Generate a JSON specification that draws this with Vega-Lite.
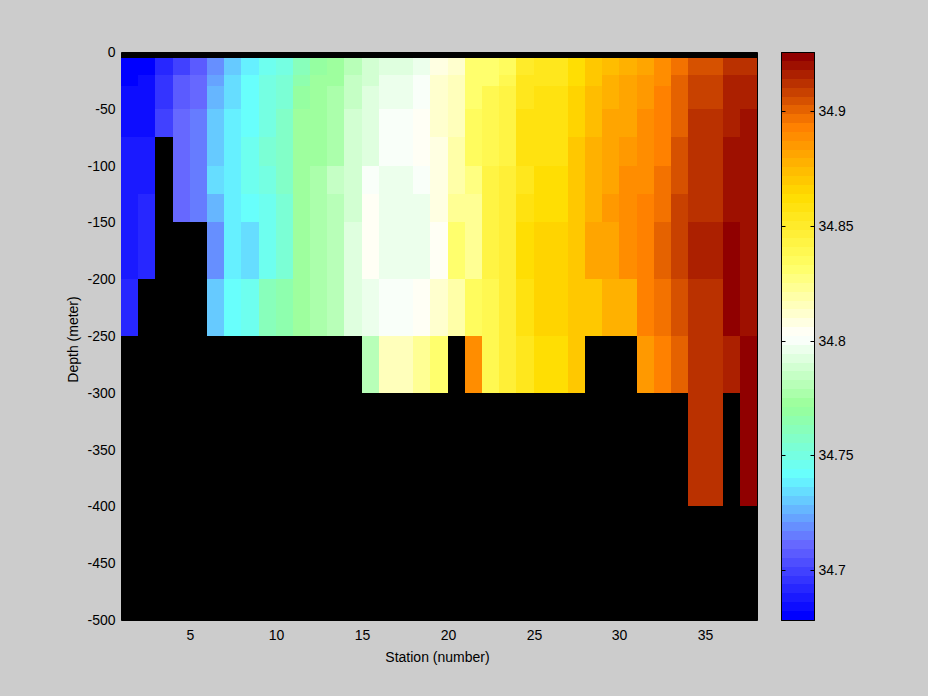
{"$schema":"https://vega.github.io/schema/vega-lite/v6.json","background":"#cccccc","autosize":{"type":"pad"},"padding":{"left":66,"top":44,"right":76,"bottom":33},"bounds":"flush","spacing":24,
"config":{"font":"Liberation Sans","axis":{"labelFont":"Liberation Sans","titleFont":"Liberation Sans","labelFontSize":14,"titleFontSize":14,"titleFontWeight":"normal","labelColor":"#000000","titleColor":"#000000","grid":false,"domain":false,"ticks":false}},
"datasets":{"bar":[
{"lo":34.6783,"hi":34.6822,"v":34.680},{"lo":34.6822,"hi":34.6860,"v":34.684},{"lo":34.6860,"hi":34.6899,"v":34.688},{"lo":34.6899,"hi":34.6938,"v":34.692},{"lo":34.6938,"hi":34.6976,"v":34.696},{"lo":34.6976,"hi":34.7015,"v":34.700},{"lo":34.7015,"hi":34.7054,"v":34.703},{"lo":34.7054,"hi":34.7092,"v":34.707},{"lo":34.7092,"hi":34.7131,"v":34.711},{"lo":34.7131,"hi":34.7170,"v":34.715},{"lo":34.7170,"hi":34.7208,"v":34.719},{"lo":34.7208,"hi":34.7247,"v":34.723},{"lo":34.7247,"hi":34.7286,"v":34.727},{"lo":34.7286,"hi":34.7324,"v":34.731},{"lo":34.7324,"hi":34.7363,"v":34.734},{"lo":34.7363,"hi":34.7402,"v":34.738},{"lo":34.7402,"hi":34.7440,"v":34.742},{"lo":34.7440,"hi":34.7479,"v":34.746},{"lo":34.7479,"hi":34.7518,"v":34.750},{"lo":34.7518,"hi":34.7556,"v":34.754},{"lo":34.7556,"hi":34.7595,"v":34.758},{"lo":34.7595,"hi":34.7634,"v":34.761},{"lo":34.7634,"hi":34.7672,"v":34.765},{"lo":34.7672,"hi":34.7711,"v":34.769},{"lo":34.7711,"hi":34.7750,"v":34.773},{"lo":34.7750,"hi":34.7788,"v":34.777},{"lo":34.7788,"hi":34.7827,"v":34.781},{"lo":34.7827,"hi":34.7866,"v":34.785},{"lo":34.7866,"hi":34.7904,"v":34.788},{"lo":34.7904,"hi":34.7943,"v":34.792},{"lo":34.7943,"hi":34.7982,"v":34.796},{"lo":34.7982,"hi":34.8020,"v":34.800},{"lo":34.8020,"hi":34.8059,"v":34.804},{"lo":34.8059,"hi":34.8098,"v":34.808},{"lo":34.8098,"hi":34.8136,"v":34.812},{"lo":34.8136,"hi":34.8175,"v":34.816},{"lo":34.8175,"hi":34.8214,"v":34.819},{"lo":34.8214,"hi":34.8252,"v":34.823},{"lo":34.8252,"hi":34.8291,"v":34.827},{"lo":34.8291,"hi":34.8330,"v":34.831},{"lo":34.8330,"hi":34.8368,"v":34.835},{"lo":34.8368,"hi":34.8407,"v":34.839},{"lo":34.8407,"hi":34.8446,"v":34.843},{"lo":34.8446,"hi":34.8484,"v":34.847},{"lo":34.8484,"hi":34.8523,"v":34.850},{"lo":34.8523,"hi":34.8562,"v":34.854},{"lo":34.8562,"hi":34.8600,"v":34.858},{"lo":34.8600,"hi":34.8639,"v":34.862},{"lo":34.8639,"hi":34.8678,"v":34.866},{"lo":34.8678,"hi":34.8716,"v":34.870},{"lo":34.8716,"hi":34.8755,"v":34.874},{"lo":34.8755,"hi":34.8794,"v":34.877},{"lo":34.8794,"hi":34.8832,"v":34.881},{"lo":34.8832,"hi":34.8871,"v":34.885},{"lo":34.8871,"hi":34.8910,"v":34.889},{"lo":34.8910,"hi":34.8948,"v":34.893},{"lo":34.8948,"hi":34.8987,"v":34.897},{"lo":34.8987,"hi":34.9026,"v":34.901},{"lo":34.9026,"hi":34.9064,"v":34.905},{"lo":34.9064,"hi":34.9103,"v":34.908},{"lo":34.9103,"hi":34.9142,"v":34.912},{"lo":34.9142,"hi":34.9180,"v":34.916},{"lo":34.9180,"hi":34.9219,"v":34.920},{"lo":34.9219,"hi":34.9258,"v":34.924}
],
"cells":[
{"x":1,"x2":2,"y":-5,"y2":-20,"v":34.680},{"x":1,"x2":2,"y":-20,"y2":-30,"v":34.680},{"x":1,"x2":2,"y":-30,"y2":-50,"v":34.684},{"x":1,"x2":2,"y":-50,"y2":-75,"v":34.684},{"x":1,"x2":2,"y":-75,"y2":-100,"v":34.688},{"x":1,"x2":2,"y":-100,"y2":-125,"v":34.688},{"x":1,"x2":2,"y":-125,"y2":-150,"v":34.688},{"x":1,"x2":2,"y":-150,"y2":-200,"v":34.688},{"x":1,"x2":2,"y":-200,"y2":-250,"v":34.692},
{"x":2,"x2":3,"y":-5,"y2":-20,"v":34.680},{"x":2,"x2":3,"y":-20,"y2":-30,"v":34.684},{"x":2,"x2":3,"y":-30,"y2":-50,"v":34.684},{"x":2,"x2":3,"y":-50,"y2":-75,"v":34.684},{"x":2,"x2":3,"y":-75,"y2":-100,"v":34.688},{"x":2,"x2":3,"y":-100,"y2":-125,"v":34.688},{"x":2,"x2":3,"y":-125,"y2":-150,"v":34.692},{"x":2,"x2":3,"y":-150,"y2":-200,"v":34.692},
{"x":3,"x2":4,"y":-5,"y2":-20,"v":34.692},{"x":3,"x2":4,"y":-20,"y2":-30,"v":34.696},{"x":3,"x2":4,"y":-30,"y2":-50,"v":34.696},{"x":3,"x2":4,"y":-50,"y2":-75,"v":34.700},
{"x":4,"x2":5,"y":-5,"y2":-20,"v":34.700},{"x":4,"x2":5,"y":-20,"y2":-30,"v":34.707},{"x":4,"x2":5,"y":-30,"y2":-50,"v":34.707},{"x":4,"x2":5,"y":-50,"y2":-75,"v":34.711},{"x":4,"x2":5,"y":-75,"y2":-100,"v":34.711},{"x":4,"x2":5,"y":-100,"y2":-125,"v":34.711},{"x":4,"x2":5,"y":-125,"y2":-150,"v":34.711},
{"x":5,"x2":6,"y":-5,"y2":-20,"v":34.707},{"x":5,"x2":6,"y":-20,"y2":-30,"v":34.711},{"x":5,"x2":6,"y":-30,"y2":-50,"v":34.711},{"x":5,"x2":6,"y":-50,"y2":-75,"v":34.715},{"x":5,"x2":6,"y":-75,"y2":-100,"v":34.715},{"x":5,"x2":6,"y":-100,"y2":-125,"v":34.715},{"x":5,"x2":6,"y":-125,"y2":-150,"v":34.715},
{"x":6,"x2":7,"y":-5,"y2":-20,"v":34.719},{"x":6,"x2":7,"y":-20,"y2":-30,"v":34.723},{"x":6,"x2":7,"y":-30,"y2":-50,"v":34.727},{"x":6,"x2":7,"y":-50,"y2":-75,"v":34.731},{"x":6,"x2":7,"y":-75,"y2":-100,"v":34.731},{"x":6,"x2":7,"y":-100,"y2":-125,"v":34.734},{"x":6,"x2":7,"y":-125,"y2":-150,"v":34.727},{"x":6,"x2":7,"y":-150,"y2":-200,"v":34.719},{"x":6,"x2":7,"y":-200,"y2":-250,"v":34.731},
{"x":7,"x2":8,"y":-5,"y2":-20,"v":34.731},{"x":7,"x2":8,"y":-20,"y2":-30,"v":34.734},{"x":7,"x2":8,"y":-30,"y2":-50,"v":34.734},{"x":7,"x2":8,"y":-50,"y2":-75,"v":34.738},{"x":7,"x2":8,"y":-75,"y2":-100,"v":34.738},{"x":7,"x2":8,"y":-100,"y2":-125,"v":34.738},{"x":7,"x2":8,"y":-125,"y2":-150,"v":34.738},{"x":7,"x2":8,"y":-150,"y2":-200,"v":34.738},{"x":7,"x2":8,"y":-200,"y2":-250,"v":34.742},
{"x":8,"x2":9,"y":-5,"y2":-20,"v":34.738},{"x":8,"x2":9,"y":-20,"y2":-30,"v":34.742},{"x":8,"x2":9,"y":-30,"y2":-50,"v":34.742},{"x":8,"x2":9,"y":-50,"y2":-75,"v":34.742},{"x":8,"x2":9,"y":-75,"y2":-100,"v":34.746},{"x":8,"x2":9,"y":-100,"y2":-125,"v":34.746},{"x":8,"x2":9,"y":-125,"y2":-150,"v":34.742},{"x":8,"x2":9,"y":-150,"y2":-200,"v":34.734},{"x":8,"x2":9,"y":-200,"y2":-250,"v":34.746},
{"x":9,"x2":10,"y":-5,"y2":-20,"v":34.746},{"x":9,"x2":10,"y":-20,"y2":-30,"v":34.750},{"x":9,"x2":10,"y":-30,"y2":-50,"v":34.750},{"x":9,"x2":10,"y":-50,"y2":-75,"v":34.750},{"x":9,"x2":10,"y":-75,"y2":-100,"v":34.754},{"x":9,"x2":10,"y":-100,"y2":-125,"v":34.750},{"x":9,"x2":10,"y":-125,"y2":-150,"v":34.746},{"x":9,"x2":10,"y":-150,"y2":-200,"v":34.746},{"x":9,"x2":10,"y":-200,"y2":-250,"v":34.761},
{"x":10,"x2":11,"y":-5,"y2":-20,"v":34.750},{"x":10,"x2":11,"y":-20,"y2":-30,"v":34.754},{"x":10,"x2":11,"y":-30,"y2":-50,"v":34.754},{"x":10,"x2":11,"y":-50,"y2":-75,"v":34.758},{"x":10,"x2":11,"y":-75,"y2":-100,"v":34.758},{"x":10,"x2":11,"y":-100,"y2":-125,"v":34.758},{"x":10,"x2":11,"y":-125,"y2":-150,"v":34.754},{"x":10,"x2":11,"y":-150,"y2":-200,"v":34.754},{"x":10,"x2":11,"y":-200,"y2":-250,"v":34.765},
{"x":11,"x2":12,"y":-5,"y2":-20,"v":34.761},{"x":11,"x2":12,"y":-20,"y2":-30,"v":34.765},{"x":11,"x2":12,"y":-30,"y2":-50,"v":34.769},{"x":11,"x2":12,"y":-50,"y2":-75,"v":34.773},{"x":11,"x2":12,"y":-75,"y2":-100,"v":34.773},{"x":11,"x2":12,"y":-100,"y2":-125,"v":34.773},{"x":11,"x2":12,"y":-125,"y2":-150,"v":34.773},{"x":11,"x2":12,"y":-150,"y2":-200,"v":34.773},{"x":11,"x2":12,"y":-200,"y2":-250,"v":34.773},
{"x":12,"x2":13,"y":-5,"y2":-20,"v":34.769},{"x":12,"x2":13,"y":-20,"y2":-30,"v":34.773},{"x":12,"x2":13,"y":-30,"y2":-50,"v":34.773},{"x":12,"x2":13,"y":-50,"y2":-75,"v":34.773},{"x":12,"x2":13,"y":-75,"y2":-100,"v":34.773},{"x":12,"x2":13,"y":-100,"y2":-125,"v":34.777},{"x":12,"x2":13,"y":-125,"y2":-150,"v":34.777},{"x":12,"x2":13,"y":-150,"y2":-200,"v":34.777},{"x":12,"x2":13,"y":-200,"y2":-250,"v":34.777},
{"x":13,"x2":14,"y":-5,"y2":-20,"v":34.773},{"x":13,"x2":14,"y":-20,"y2":-30,"v":34.773},{"x":13,"x2":14,"y":-30,"y2":-50,"v":34.777},{"x":13,"x2":14,"y":-50,"y2":-75,"v":34.777},{"x":13,"x2":14,"y":-75,"y2":-100,"v":34.777},{"x":13,"x2":14,"y":-100,"y2":-125,"v":34.785},{"x":13,"x2":14,"y":-125,"y2":-150,"v":34.781},{"x":13,"x2":14,"y":-150,"y2":-200,"v":34.781},{"x":13,"x2":14,"y":-200,"y2":-250,"v":34.781},
{"x":14,"x2":15,"y":-5,"y2":-20,"v":34.781},{"x":14,"x2":15,"y":-20,"y2":-30,"v":34.785},{"x":14,"x2":15,"y":-30,"y2":-50,"v":34.785},{"x":14,"x2":15,"y":-50,"y2":-75,"v":34.788},{"x":14,"x2":15,"y":-75,"y2":-100,"v":34.788},{"x":14,"x2":15,"y":-100,"y2":-125,"v":34.788},{"x":14,"x2":15,"y":-125,"y2":-150,"v":34.788},{"x":14,"x2":15,"y":-150,"y2":-200,"v":34.792},{"x":14,"x2":15,"y":-200,"y2":-250,"v":34.792},
{"x":15,"x2":16,"y":-5,"y2":-20,"v":34.788},{"x":15,"x2":16,"y":-20,"y2":-30,"v":34.788},{"x":15,"x2":16,"y":-30,"y2":-50,"v":34.792},{"x":15,"x2":16,"y":-50,"y2":-75,"v":34.792},{"x":15,"x2":16,"y":-75,"y2":-100,"v":34.792},{"x":15,"x2":16,"y":-100,"y2":-125,"v":34.800},{"x":15,"x2":16,"y":-125,"y2":-150,"v":34.804},{"x":15,"x2":16,"y":-150,"y2":-200,"v":34.804},{"x":15,"x2":16,"y":-200,"y2":-250,"v":34.796},{"x":15,"x2":16,"y":-250,"y2":-300,"v":34.781},
{"x":16,"x2":17,"y":-5,"y2":-20,"v":34.792},{"x":16,"x2":17,"y":-20,"y2":-30,"v":34.796},{"x":16,"x2":17,"y":-30,"y2":-50,"v":34.796},{"x":16,"x2":17,"y":-50,"y2":-75,"v":34.800},{"x":16,"x2":17,"y":-75,"y2":-100,"v":34.800},{"x":16,"x2":17,"y":-100,"y2":-125,"v":34.796},{"x":16,"x2":17,"y":-125,"y2":-150,"v":34.796},{"x":16,"x2":17,"y":-150,"y2":-200,"v":34.796},{"x":16,"x2":17,"y":-200,"y2":-250,"v":34.800},{"x":16,"x2":17,"y":-250,"y2":-300,"v":34.816},
{"x":17,"x2":18,"y":-5,"y2":-20,"v":34.792},{"x":17,"x2":18,"y":-20,"y2":-30,"v":34.796},{"x":17,"x2":18,"y":-30,"y2":-50,"v":34.796},{"x":17,"x2":18,"y":-50,"y2":-75,"v":34.800},{"x":17,"x2":18,"y":-75,"y2":-100,"v":34.800},{"x":17,"x2":18,"y":-100,"y2":-125,"v":34.796},{"x":17,"x2":18,"y":-125,"y2":-150,"v":34.796},{"x":17,"x2":18,"y":-150,"y2":-200,"v":34.796},{"x":17,"x2":18,"y":-200,"y2":-250,"v":34.800},{"x":17,"x2":18,"y":-250,"y2":-300,"v":34.816},
{"x":18,"x2":19,"y":-5,"y2":-20,"v":34.796},{"x":18,"x2":19,"y":-20,"y2":-30,"v":34.800},{"x":18,"x2":19,"y":-30,"y2":-50,"v":34.800},{"x":18,"x2":19,"y":-50,"y2":-75,"v":34.804},{"x":18,"x2":19,"y":-75,"y2":-100,"v":34.804},{"x":18,"x2":19,"y":-100,"y2":-125,"v":34.800},{"x":18,"x2":19,"y":-125,"y2":-150,"v":34.796},{"x":18,"x2":19,"y":-150,"y2":-200,"v":34.796},{"x":18,"x2":19,"y":-200,"y2":-250,"v":34.804},{"x":18,"x2":19,"y":-250,"y2":-300,"v":34.823},
{"x":19,"x2":20,"y":-5,"y2":-20,"v":34.808},{"x":19,"x2":20,"y":-20,"y2":-30,"v":34.812},{"x":19,"x2":20,"y":-30,"y2":-50,"v":34.812},{"x":19,"x2":20,"y":-50,"y2":-75,"v":34.812},{"x":19,"x2":20,"y":-75,"y2":-100,"v":34.808},{"x":19,"x2":20,"y":-100,"y2":-125,"v":34.808},{"x":19,"x2":20,"y":-125,"y2":-150,"v":34.808},{"x":19,"x2":20,"y":-150,"y2":-200,"v":34.804},{"x":19,"x2":20,"y":-200,"y2":-250,"v":34.812},{"x":19,"x2":20,"y":-250,"y2":-300,"v":34.831},
{"x":20,"x2":21,"y":-5,"y2":-20,"v":34.812},{"x":20,"x2":21,"y":-20,"y2":-30,"v":34.816},{"x":20,"x2":21,"y":-30,"y2":-50,"v":34.816},{"x":20,"x2":21,"y":-50,"y2":-75,"v":34.816},{"x":20,"x2":21,"y":-75,"y2":-100,"v":34.819},{"x":20,"x2":21,"y":-100,"y2":-125,"v":34.819},{"x":20,"x2":21,"y":-125,"y2":-150,"v":34.823},{"x":20,"x2":21,"y":-150,"y2":-200,"v":34.831},{"x":20,"x2":21,"y":-200,"y2":-250,"v":34.819},
{"x":21,"x2":22,"y":-5,"y2":-20,"v":34.831},{"x":21,"x2":22,"y":-20,"y2":-30,"v":34.831},{"x":21,"x2":22,"y":-30,"y2":-50,"v":34.831},{"x":21,"x2":22,"y":-50,"y2":-75,"v":34.835},{"x":21,"x2":22,"y":-75,"y2":-100,"v":34.835},{"x":21,"x2":22,"y":-100,"y2":-125,"v":34.827},{"x":21,"x2":22,"y":-125,"y2":-150,"v":34.823},{"x":21,"x2":22,"y":-150,"y2":-200,"v":34.823},{"x":21,"x2":22,"y":-200,"y2":-250,"v":34.835},{"x":21,"x2":22,"y":-250,"y2":-300,"v":34.889},
{"x":22,"x2":23,"y":-5,"y2":-20,"v":34.831},{"x":22,"x2":23,"y":-20,"y2":-30,"v":34.831},{"x":22,"x2":23,"y":-30,"y2":-50,"v":34.839},{"x":22,"x2":23,"y":-50,"y2":-75,"v":34.839},{"x":22,"x2":23,"y":-75,"y2":-100,"v":34.839},{"x":22,"x2":23,"y":-100,"y2":-125,"v":34.843},{"x":22,"x2":23,"y":-125,"y2":-150,"v":34.843},{"x":22,"x2":23,"y":-150,"y2":-200,"v":34.843},{"x":22,"x2":23,"y":-200,"y2":-250,"v":34.839},{"x":22,"x2":23,"y":-250,"y2":-300,"v":34.839},
{"x":23,"x2":24,"y":-5,"y2":-20,"v":34.835},{"x":23,"x2":24,"y":-20,"y2":-30,"v":34.839},{"x":23,"x2":24,"y":-30,"y2":-50,"v":34.843},{"x":23,"x2":24,"y":-50,"y2":-75,"v":34.843},{"x":23,"x2":24,"y":-75,"y2":-100,"v":34.843},{"x":23,"x2":24,"y":-100,"y2":-125,"v":34.847},{"x":23,"x2":24,"y":-125,"y2":-150,"v":34.847},{"x":23,"x2":24,"y":-150,"y2":-200,"v":34.847},{"x":23,"x2":24,"y":-200,"y2":-250,"v":34.847},{"x":23,"x2":24,"y":-250,"y2":-300,"v":34.847},
{"x":24,"x2":25,"y":-5,"y2":-20,"v":34.850},{"x":24,"x2":25,"y":-20,"y2":-30,"v":34.854},{"x":24,"x2":25,"y":-30,"y2":-50,"v":34.854},{"x":24,"x2":25,"y":-50,"y2":-75,"v":34.858},{"x":24,"x2":25,"y":-75,"y2":-100,"v":34.858},{"x":24,"x2":25,"y":-100,"y2":-125,"v":34.854},{"x":24,"x2":25,"y":-125,"y2":-150,"v":34.858},{"x":24,"x2":25,"y":-150,"y2":-200,"v":34.862},{"x":24,"x2":25,"y":-200,"y2":-250,"v":34.858},{"x":24,"x2":25,"y":-250,"y2":-300,"v":34.854},
{"x":25,"x2":26,"y":-5,"y2":-20,"v":34.854},{"x":25,"x2":26,"y":-20,"y2":-30,"v":34.854},{"x":25,"x2":26,"y":-30,"y2":-50,"v":34.858},{"x":25,"x2":26,"y":-50,"y2":-75,"v":34.858},{"x":25,"x2":26,"y":-75,"y2":-100,"v":34.858},{"x":25,"x2":26,"y":-100,"y2":-125,"v":34.862},{"x":25,"x2":26,"y":-125,"y2":-150,"v":34.862},{"x":25,"x2":26,"y":-150,"y2":-200,"v":34.866},{"x":25,"x2":26,"y":-200,"y2":-250,"v":34.866},{"x":25,"x2":26,"y":-250,"y2":-300,"v":34.862},
{"x":26,"x2":27,"y":-5,"y2":-20,"v":34.854},{"x":26,"x2":27,"y":-20,"y2":-30,"v":34.854},{"x":26,"x2":27,"y":-30,"y2":-50,"v":34.858},{"x":26,"x2":27,"y":-50,"y2":-75,"v":34.858},{"x":26,"x2":27,"y":-75,"y2":-100,"v":34.858},{"x":26,"x2":27,"y":-100,"y2":-125,"v":34.862},{"x":26,"x2":27,"y":-125,"y2":-150,"v":34.862},{"x":26,"x2":27,"y":-150,"y2":-200,"v":34.866},{"x":26,"x2":27,"y":-200,"y2":-250,"v":34.866},{"x":26,"x2":27,"y":-250,"y2":-300,"v":34.862},
{"x":27,"x2":28,"y":-5,"y2":-20,"v":34.862},{"x":27,"x2":28,"y":-20,"y2":-30,"v":34.862},{"x":27,"x2":28,"y":-30,"y2":-50,"v":34.866},{"x":27,"x2":28,"y":-50,"y2":-75,"v":34.866},{"x":27,"x2":28,"y":-75,"y2":-100,"v":34.870},{"x":27,"x2":28,"y":-100,"y2":-125,"v":34.870},{"x":27,"x2":28,"y":-125,"y2":-150,"v":34.870},{"x":27,"x2":28,"y":-150,"y2":-200,"v":34.870},{"x":27,"x2":28,"y":-200,"y2":-250,"v":34.870},{"x":27,"x2":28,"y":-250,"y2":-300,"v":34.870},
{"x":28,"x2":29,"y":-5,"y2":-20,"v":34.870},{"x":28,"x2":29,"y":-20,"y2":-30,"v":34.870},{"x":28,"x2":29,"y":-30,"y2":-50,"v":34.874},{"x":28,"x2":29,"y":-50,"y2":-75,"v":34.874},{"x":28,"x2":29,"y":-75,"y2":-100,"v":34.877},{"x":28,"x2":29,"y":-100,"y2":-125,"v":34.877},{"x":28,"x2":29,"y":-125,"y2":-150,"v":34.877},{"x":28,"x2":29,"y":-150,"y2":-200,"v":34.881},{"x":28,"x2":29,"y":-200,"y2":-250,"v":34.870},
{"x":29,"x2":30,"y":-5,"y2":-20,"v":34.874},{"x":29,"x2":30,"y":-20,"y2":-30,"v":34.877},{"x":29,"x2":30,"y":-30,"y2":-50,"v":34.877},{"x":29,"x2":30,"y":-50,"y2":-75,"v":34.881},{"x":29,"x2":30,"y":-75,"y2":-100,"v":34.881},{"x":29,"x2":30,"y":-100,"y2":-125,"v":34.881},{"x":29,"x2":30,"y":-125,"y2":-150,"v":34.885},{"x":29,"x2":30,"y":-150,"y2":-200,"v":34.881},{"x":29,"x2":30,"y":-200,"y2":-250,"v":34.877},
{"x":30,"x2":31,"y":-5,"y2":-20,"v":34.877},{"x":30,"x2":31,"y":-20,"y2":-30,"v":34.881},{"x":30,"x2":31,"y":-30,"y2":-50,"v":34.881},{"x":30,"x2":31,"y":-50,"y2":-75,"v":34.881},{"x":30,"x2":31,"y":-75,"y2":-100,"v":34.885},{"x":30,"x2":31,"y":-100,"y2":-125,"v":34.889},{"x":30,"x2":31,"y":-125,"y2":-150,"v":34.889},{"x":30,"x2":31,"y":-150,"y2":-200,"v":34.889},{"x":30,"x2":31,"y":-200,"y2":-250,"v":34.877},
{"x":31,"x2":32,"y":-5,"y2":-20,"v":34.881},{"x":31,"x2":32,"y":-20,"y2":-30,"v":34.885},{"x":31,"x2":32,"y":-30,"y2":-50,"v":34.885},{"x":31,"x2":32,"y":-50,"y2":-75,"v":34.889},{"x":31,"x2":32,"y":-75,"y2":-100,"v":34.889},{"x":31,"x2":32,"y":-100,"y2":-125,"v":34.889},{"x":31,"x2":32,"y":-125,"y2":-150,"v":34.893},{"x":31,"x2":32,"y":-150,"y2":-200,"v":34.893},{"x":31,"x2":32,"y":-200,"y2":-250,"v":34.893},{"x":31,"x2":32,"y":-250,"y2":-300,"v":34.885},
{"x":32,"x2":33,"y":-5,"y2":-20,"v":34.889},{"x":32,"x2":33,"y":-20,"y2":-30,"v":34.889},{"x":32,"x2":33,"y":-30,"y2":-50,"v":34.893},{"x":32,"x2":33,"y":-50,"y2":-75,"v":34.893},{"x":32,"x2":33,"y":-75,"y2":-100,"v":34.893},{"x":32,"x2":33,"y":-100,"y2":-125,"v":34.897},{"x":32,"x2":33,"y":-125,"y2":-150,"v":34.897},{"x":32,"x2":33,"y":-150,"y2":-200,"v":34.901},{"x":32,"x2":33,"y":-200,"y2":-250,"v":34.897},{"x":32,"x2":33,"y":-250,"y2":-300,"v":34.893},
{"x":33,"x2":34,"y":-5,"y2":-20,"v":34.897},{"x":33,"x2":34,"y":-20,"y2":-30,"v":34.901},{"x":33,"x2":34,"y":-30,"y2":-50,"v":34.901},{"x":33,"x2":34,"y":-50,"y2":-75,"v":34.901},{"x":33,"x2":34,"y":-75,"y2":-100,"v":34.905},{"x":33,"x2":34,"y":-100,"y2":-125,"v":34.905},{"x":33,"x2":34,"y":-125,"y2":-150,"v":34.908},{"x":33,"x2":34,"y":-150,"y2":-200,"v":34.908},{"x":33,"x2":34,"y":-200,"y2":-250,"v":34.905},{"x":33,"x2":34,"y":-250,"y2":-300,"v":34.901},
{"x":34,"x2":35,"y":-5,"y2":-20,"v":34.905},{"x":34,"x2":35,"y":-20,"y2":-30,"v":34.908},{"x":34,"x2":35,"y":-30,"y2":-50,"v":34.908},{"x":34,"x2":35,"y":-50,"y2":-75,"v":34.912},{"x":34,"x2":35,"y":-75,"y2":-100,"v":34.912},{"x":34,"x2":35,"y":-100,"y2":-125,"v":34.912},{"x":34,"x2":35,"y":-125,"y2":-150,"v":34.912},{"x":34,"x2":35,"y":-150,"y2":-200,"v":34.916},{"x":34,"x2":35,"y":-200,"y2":-250,"v":34.912},{"x":34,"x2":35,"y":-250,"y2":-300,"v":34.912},{"x":34,"x2":35,"y":-300,"y2":-400,"v":34.912},
{"x":35,"x2":36,"y":-5,"y2":-20,"v":34.905},{"x":35,"x2":36,"y":-20,"y2":-30,"v":34.908},{"x":35,"x2":36,"y":-30,"y2":-50,"v":34.908},{"x":35,"x2":36,"y":-50,"y2":-75,"v":34.912},{"x":35,"x2":36,"y":-75,"y2":-100,"v":34.912},{"x":35,"x2":36,"y":-100,"y2":-125,"v":34.912},{"x":35,"x2":36,"y":-125,"y2":-150,"v":34.912},{"x":35,"x2":36,"y":-150,"y2":-200,"v":34.916},{"x":35,"x2":36,"y":-200,"y2":-250,"v":34.912},{"x":35,"x2":36,"y":-250,"y2":-300,"v":34.912},{"x":35,"x2":36,"y":-300,"y2":-400,"v":34.912},
{"x":36,"x2":37,"y":-5,"y2":-20,"v":34.912},{"x":36,"x2":37,"y":-20,"y2":-30,"v":34.916},{"x":36,"x2":37,"y":-30,"y2":-50,"v":34.916},{"x":36,"x2":37,"y":-50,"y2":-75,"v":34.916},{"x":36,"x2":37,"y":-75,"y2":-100,"v":34.920},{"x":36,"x2":37,"y":-100,"y2":-125,"v":34.920},{"x":36,"x2":37,"y":-125,"y2":-150,"v":34.920},{"x":36,"x2":37,"y":-150,"y2":-200,"v":34.924},{"x":36,"x2":37,"y":-200,"y2":-250,"v":34.924},{"x":36,"x2":37,"y":-250,"y2":-300,"v":34.916},
{"x":37,"x2":38,"y":-5,"y2":-20,"v":34.912},{"x":37,"x2":38,"y":-20,"y2":-30,"v":34.916},{"x":37,"x2":38,"y":-30,"y2":-50,"v":34.916},{"x":37,"x2":38,"y":-50,"y2":-75,"v":34.920},{"x":37,"x2":38,"y":-75,"y2":-100,"v":34.920},{"x":37,"x2":38,"y":-100,"y2":-125,"v":34.920},{"x":37,"x2":38,"y":-125,"y2":-150,"v":34.920},{"x":37,"x2":38,"y":-150,"y2":-200,"v":34.920},{"x":37,"x2":38,"y":-200,"y2":-250,"v":34.920},{"x":37,"x2":38,"y":-250,"y2":-300,"v":34.924},{"x":37,"x2":38,"y":-300,"y2":-400,"v":34.924}
]},
"hconcat":[
{"width":636,"height":568,"view":{"fill":"#000000","stroke":"#000000"},"data":{"name":"cells"},"mark":{"type":"rect","tooltip":false},
"encoding":{
"x":{"field":"x","type":"quantitative","scale":{"domain":[1,38],"nice":false,"zero":false,"round":true},"axis":{"title":"Station (number)","values":[5,10,15,20,25,30,35],"labelAngle":0,"labelPadding":8,"titlePadding":8,"titleX":316}},
"x2":{"field":"x2"},
"y":{"field":"y","type":"quantitative","scale":{"domain":[-500,0],"nice":false,"zero":false,"round":true},"axis":{"title":"Depth (meter)","values":[0,-50,-100,-150,-200,-250,-300,-350,-400,-450,-500],"labelExpr":"'' + datum.value","labelPadding":6,"titlePadding":6,"titleY":287}},
"y2":{"field":"y2"},
"color":{"field":"v","type":"quantitative","legend":null,"scale":{"type":"quantize","domain":[34.6783,34.9258],"range":["#0000ff","#0d0dff","#1a1aff","#2727ff","#3434ff","#4141ff","#4e4eff","#5b5bff","#6668ff","#667cff","#668fff","#66a3ff","#66b6ff","#66caff","#66ddff","#66f0ff","#68fffc","#6effef","#75ffe2","#7bffd5","#82ffc8","#88ffbb","#8effae","#95ffa1","#9eff9e","#abffab","#b8ffb8","#c5ffc5","#d2ffd2","#dfffdf","#ecffec","#f9fff9","#fffff5","#ffffe2","#ffffce","#ffffbb","#ffffa8","#ffff94","#ffff81","#ffff6d","#fffc5e","#fff851","#fff444","#ffef37","#ffeb2a","#ffe71d","#ffe210","#ffde03","#ffd400","#ffc800","#ffbd00","#ffb100","#ffa500","#ff9900","#ff8d00","#ff8100","#f37200","#e56200","#d65100","#c84100","#ba3100","#ac2000","#9e1000","#900000"]}}
}},
{"width":33,"height":568,"view":{"stroke":"#000000"},"data":{"name":"bar"},
"resolve":{"axis":{"y":"independent","x":"independent"}},
"layer":[
{"mark":{"type":"rect","tooltip":false},"encoding":{
"x":{"datum":0,"type":"quantitative","axis":{"orient":"bottom","title":null,"labels":false,"ticks":false,"domain":true,"domainColor":"#000000","zindex":1},"scale":{"domain":[0,1],"nice":false,"zero":false}},"x2":{"datum":1},
"y":{"field":"lo","type":"quantitative","scale":{"domain":[34.6783,34.9258],"nice":false,"zero":false,"round":true},"axis":{"orient":"right","title":null,"values":[34.7,34.75,34.8,34.85,34.9],"labelExpr":"'' + datum.value","ticks":true,"tickSize":-4,"tickColor":"#000000","domain":true,"domainColor":"#000000","zindex":1,"labelPadding":8}},
"y2":{"field":"hi"},
"color":{"field":"v","type":"quantitative","legend":null,"scale":{"type":"quantize","domain":[34.6783,34.9258],"range":["#0000ff","#0d0dff","#1a1aff","#2727ff","#3434ff","#4141ff","#4e4eff","#5b5bff","#6668ff","#667cff","#668fff","#66a3ff","#66b6ff","#66caff","#66ddff","#66f0ff","#68fffc","#6effef","#75ffe2","#7bffd5","#82ffc8","#88ffbb","#8effae","#95ffa1","#9eff9e","#abffab","#b8ffb8","#c5ffc5","#d2ffd2","#dfffdf","#ecffec","#f9fff9","#fffff5","#ffffe2","#ffffce","#ffffbb","#ffffa8","#ffff94","#ffff81","#ffff6d","#fffc5e","#fff851","#fff444","#ffef37","#ffeb2a","#ffe71d","#ffe210","#ffde03","#ffd400","#ffc800","#ffbd00","#ffb100","#ffa500","#ff9900","#ff8d00","#ff8100","#f37200","#e56200","#d65100","#c84100","#ba3100","#ac2000","#9e1000","#900000"]}}
}},
{"mark":{"type":"rect","tooltip":false,"opacity":0},"encoding":{
"x":{"datum":0,"type":"quantitative","axis":{"orient":"top","title":null,"labels":false,"ticks":false,"domain":true,"domainColor":"#000000","zindex":1},"scale":{"domain":[0,1],"nice":false,"zero":false}},"x2":{"datum":1},
"y":{"field":"lo","type":"quantitative","scale":{"domain":[34.6783,34.9258],"nice":false,"zero":false,"round":true},"axis":{"orient":"left","title":null,"values":[34.7,34.75,34.8,34.85,34.9],"labels":false,"ticks":true,"tickSize":-4,"tickColor":"#000000","domain":true,"domainColor":"#000000","zindex":1}},
"y2":{"field":"hi"}
}}
]}
]}
